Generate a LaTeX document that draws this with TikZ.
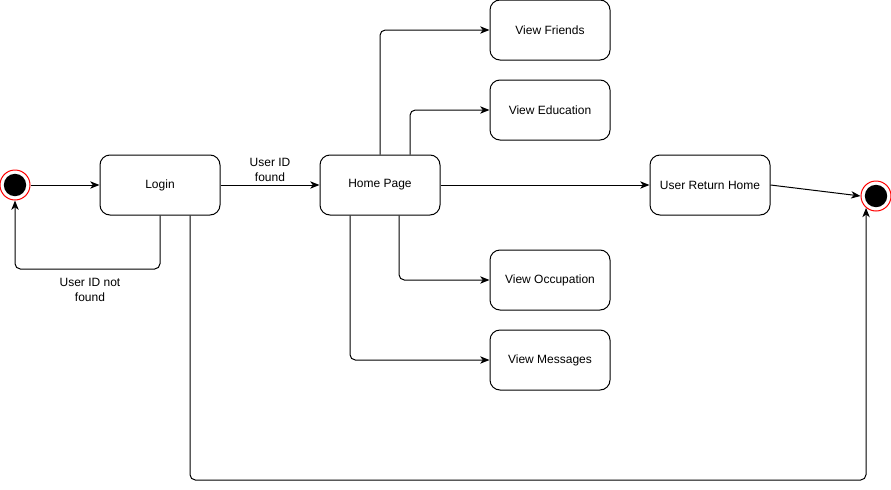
\documentclass[tikz,border=0pt]{standalone}
\usepackage{fontspec}
\setmainfont{Liberation Sans}
\usetikzlibrary{arrows.meta}
\begin{document}
\begin{tikzpicture}[x=0.75pt,y=-0.75pt,
  state/.style={draw,rounded corners=7.5pt,minimum width=90pt,minimum height=45pt,font=\fontsize{9}{11}\selectfont,line width=0.75pt,inner sep=2pt,align=center},
  conn/.style={draw,line width=0.75pt,-{Stealth[length=7pt,width=5.5pt,inset=2pt]},rounded corners=4pt},
  lbl/.style={font=\fontsize{9}{11}\selectfont,align=center,inner sep=0pt},
  term/.style={circle,draw=red,line width=0.75pt,minimum size=22.5pt,inner sep=0pt}]
\useasboundingbox (0,0) rectangle (891,489);
% start and end
\node[term] (start) at (15,185) {};
\fill (start.center) circle (8.4pt);
\node[term] (end) at (876,196) {};
\fill (end.center) circle (8.4pt);
% states
\node[state] (login) at (160,185) {Login};
\node[state] (home) at (380,185) {Home Page};
\node[state] (friends) at (550,30) {View Friends};
\node[state] (edu) at (550,110) {View Education};
\node[state] (ret) at (710,185) {User Return Home};
\node[state] (occ) at (550,280) {View Occupation};
\node[state] (msg) at (550,360) {View Messages};
% connectors
\draw[conn] (start) -- (login);
\coordinate (c1) at (15,269);
\draw[conn] (login.south) |- (c1) -- (start.south);
\node[lbl] at (90,290) {User ID not\\found};
\draw[conn] (login) -- (home);
\node[lbl] at (270,170) {User ID\\found};
\draw[conn] (home.north) |- (friends.west);
\coordinate (he) at ([xshift=22.5pt]home.north);
\draw[conn] (he) |- (edu.west);
\draw[conn] (home) -- (ret);
\coordinate (ho) at ([xshift=14.25pt]home.south);
\draw[conn] (ho) |- (occ.west);
\coordinate (hm) at ([xshift=-22.5pt]home.south);
\draw[conn] (hm) |- (msg.west);
\draw[conn] (ret.east) -- (end.west);
\coordinate (le) at ([xshift=22.5pt]login.south);
\coordinate (c2) at (190,480);
\coordinate (c3) at (866,480);
\draw[conn] (le) -- (c2) -- (c3) -- (end.-130);
\end{tikzpicture}
\end{document}
